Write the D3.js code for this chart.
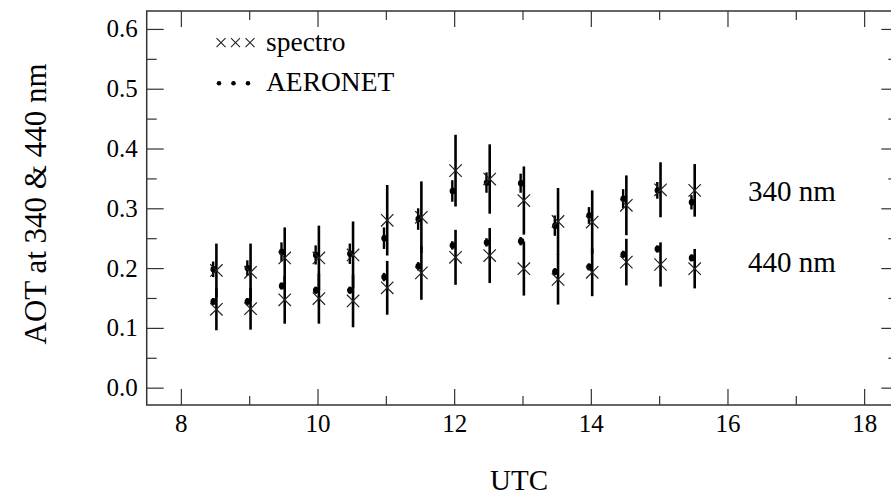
<!DOCTYPE html>
<html>
<head>
<meta charset="utf-8">
<script src="https://cdn.jsdelivr.net/npm/d3@7"></script>
<style>
  html, body { margin: 0; padding: 0; background: #fff; }
  svg { display: block; }
</style>
</head>
<body>
<svg id="chart" width="891" height="501"></svg>
<script>
// ---- data ----
const spectroTime = [8.52, 9.02, 9.52, 10.02, 10.52, 11.02, 11.52, 12.02, 12.52, 13.02, 13.52, 14.02, 14.52, 15.02, 15.52];
const aeronetTime = [8.48, 8.98, 9.48, 9.98, 10.48, 10.98, 11.48, 11.98, 12.48, 12.98, 13.48, 13.98, 14.48, 14.98, 15.48];

const spectro340 = [0.196, 0.193, 0.217, 0.217, 0.222, 0.280, 0.285, 0.363, 0.349, 0.313, 0.278, 0.277, 0.305, 0.331, 0.330];
const spectro340Err = [0.045, 0.048, 0.051, 0.054, 0.056, 0.059, 0.060, 0.060, 0.058, 0.057, 0.056, 0.053, 0.050, 0.046, 0.044];
const spectro440 = [0.131, 0.132, 0.147, 0.149, 0.145, 0.167, 0.192, 0.218, 0.221, 0.199, 0.181, 0.193, 0.210, 0.206, 0.199];
const spectro440Err = [0.035, 0.035, 0.040, 0.042, 0.044, 0.045, 0.045, 0.046, 0.046, 0.045, 0.042, 0.040, 0.039, 0.037, 0.033];

const aeronet340 = [0.198, 0.200, 0.227, 0.222, 0.224, 0.250, 0.282, 0.329, 0.343, 0.342, 0.271, 0.288, 0.316, 0.330, 0.310];
const aeronet340Err = [0.013, 0.013, 0.016, 0.016, 0.017, 0.018, 0.018, 0.018, 0.017, 0.016, 0.017, 0.014, 0.016, 0.014, 0.012];
const aeronet440 = [0.144, 0.144, 0.170, 0.163, 0.163, 0.185, 0.203, 0.238, 0.243, 0.245, 0.194, 0.202, 0.223, 0.232, 0.217];
const aeronet440Err = [0.006, 0.006, 0.006, 0.006, 0.006, 0.007, 0.007, 0.007, 0.007, 0.007, 0.006, 0.006, 0.006, 0.006, 0.006];

const xMajorTicks = [8, 10, 12, 14, 16, 18];
const xMinorTicks = [9, 11, 13, 15, 17];
const yMajorTicks = [0.0, 0.1, 0.2, 0.3, 0.4, 0.5, 0.6];
const yMinorTicks = [0.05, 0.15, 0.25, 0.35, 0.45, 0.55];

const legendLabels = ["spectro", "AERONET"];
const seriesLabels = ["340 nm", "440 nm"];
const seriesLabelValues = [0.327, 0.209];
const xTitle = "UTC";
const yTitle = "AOT at 340 & 440 nm";

// ---- layout ----
const FONT = "Liberation Serif";
const svg = d3.select("#chart");
const L = 146.7, R = 898.3, T = 11, B = 405;
const x = d3.scaleLinear().domain([7.5, 18.5]).range([L, R]);
const y = d3.scaleLinear().domain([-0.029, 0.63]).range([B, T]);

const fmt = d3.format(".1f");
const axisColor = "#333";

function styleAxis(g) {
  g.attr("font-family", FONT);
  g.select(".domain").remove();
  g.selectAll(".tick line").attr("stroke", axisColor).attr("stroke-width", 1.2);
  g.selectAll(".tick text").attr("font-family", FONT)
    .attr("font-size", 25).attr("fill", "#000");
}

// bottom
svg.append("g").attr("transform", `translate(0,${B})`)
  .call(d3.axisBottom(x).tickValues(xMajorTicks).tickSize(-16).tickPadding(9).tickFormat(d3.format("d")))
  .call(styleAxis);
svg.append("g").attr("transform", `translate(0,${B})`)
  .call(d3.axisBottom(x).tickValues(xMinorTicks).tickSize(-9).tickFormat(""))
  .call(styleAxis);
// top
svg.append("g").attr("transform", `translate(0,${T})`)
  .call(d3.axisTop(x).tickValues(xMajorTicks).tickSize(-16).tickFormat(""))
  .call(styleAxis);
svg.append("g").attr("transform", `translate(0,${T})`)
  .call(d3.axisTop(x).tickValues(xMinorTicks).tickSize(-9).tickFormat(""))
  .call(styleAxis);
// left
svg.append("g").attr("transform", `translate(${L},0)`)
  .call(d3.axisLeft(y).tickValues(yMajorTicks).tickSize(-17).tickPadding(9).tickFormat(fmt))
  .call(styleAxis);
svg.append("g").attr("transform", `translate(${L},0)`)
  .call(d3.axisLeft(y).tickValues(yMinorTicks).tickSize(-10).tickFormat(""))
  .call(styleAxis);
// right
svg.append("g").attr("transform", `translate(${R},0)`)
  .call(d3.axisRight(y).tickValues(yMajorTicks).tickSize(-17).tickFormat(""))
  .call(styleAxis);
svg.append("g").attr("transform", `translate(${R},0)`)
  .call(d3.axisRight(y).tickValues(yMinorTicks).tickSize(-10).tickFormat(""))
  .call(styleAxis);

// frame
svg.append("rect").attr("x", L).attr("y", T).attr("width", R - L).attr("height", B - T)
  .attr("fill", "none").attr("stroke", axisColor).attr("stroke-width", 1.5);

// ---- data marks ----
const spectroSets = [
  { v: spectro340, e: spectro340Err },
  { v: spectro440, e: spectro440Err }
];
const aeronetSets = [
  { v: aeronet340, e: aeronet340Err },
  { v: aeronet440, e: aeronet440Err }
];

const gData = svg.append("g");
spectroSets.forEach(s => {
  gData.append("g").selectAll("line").data(spectroTime).join("line")
    .attr("x1", d => x(d)).attr("x2", d => x(d))
    .attr("y1", (d, i) => y(s.v[i] - s.e[i]))
    .attr("y2", (d, i) => y(s.v[i] + s.e[i]))
    .attr("stroke", "#000").attr("stroke-width", 2.6);
});
aeronetSets.forEach(s => {
  gData.append("g").selectAll("line").data(aeronetTime).join("line")
    .attr("x1", d => x(d) - 0.5).attr("x2", d => x(d) - 0.5)
    .attr("y1", (d, i) => y(s.v[i] - s.e[i]))
    .attr("y2", (d, i) => y(s.v[i] + s.e[i]))
    .attr("stroke", "#000").attr("stroke-width", 2.4);
  gData.append("g").selectAll("circle").data(aeronetTime).join("circle")
    .attr("cx", d => x(d)).attr("cy", (d, i) => y(s.v[i]))
    .attr("r", 3.2).attr("fill", "#000");
});
const xs = 6.2;
spectroSets.forEach(s => {
  gData.append("g").selectAll("path").data(spectroTime).join("path")
    .attr("d", (d, i) => {
      const cx = x(d), cy = y(s.v[i]);
      return `M${cx - xs},${cy - xs}L${cx + xs},${cy + xs}M${cx - xs},${cy + xs}L${cx + xs},${cy - xs}`;
    })
    .attr("stroke", "#222").attr("stroke-width", 1.2).attr("fill", "none");
});

// series labels
svg.append("g").selectAll("text").data(seriesLabels).join("text")
  .attr("x", 748).attr("y", (d, i) => y(seriesLabelValues[i]) + 9)
  .attr("font-family", FONT).attr("font-size", 29).text(d => d);

// ---- legend ----
const lg = svg.append("g");
const legX = [221, 235.5, 250];
const lxs = 4.5;
lg.selectAll("path").data(legX).join("path")
  .attr("d", d => `M${d - lxs},${42.7 - lxs}L${d + lxs},${42.7 + lxs}M${d - lxs},${42.7 + lxs}L${d + lxs},${42.7 - lxs}`)
  .attr("stroke", "#222").attr("stroke-width", 1.1);
lg.selectAll("circle").data(legX).join("circle")
  .attr("cx", d => d - 2).attr("cy", 83.3).attr("r", 2.3).attr("fill", "#000");
lg.selectAll("text").data(legendLabels).join("text")
  .attr("x", 266).attr("y", (d, i) => 51 + i * 40)
  .attr("font-family", FONT).attr("font-size", 27.5).text(d => d);

// ---- titles ----
svg.append("text").attr("x", 519).attr("y", 490).attr("text-anchor", "middle")
  .attr("font-family", FONT).attr("font-size", 29).text(xTitle);
svg.append("text").attr("transform", "translate(46,204) rotate(-90)").attr("text-anchor", "middle")
  .attr("font-family", FONT).attr("font-size", 31).text(yTitle);
</script>
</body>
</html>
